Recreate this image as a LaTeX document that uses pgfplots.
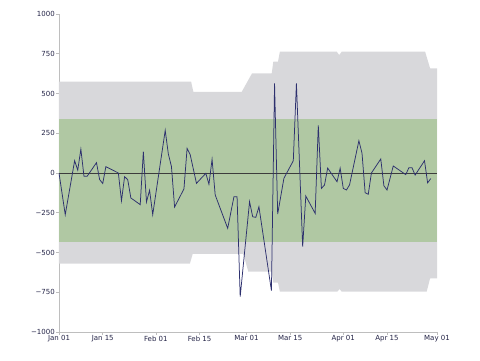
\documentclass[border=0pt]{standalone}
\usepackage{fontspec}
\setmainfont{DejaVu Sans}
\usepackage{pgfplots}
\pgfplotsset{compat=1.18}
\definecolor{bandgrey}{RGB}{216,216,219}
\definecolor{bandgreen}{RGB}{176,200,163}
\definecolor{series}{RGB}{45,48,110}
\definecolor{axisgrey}{RGB}{190,190,190}
\definecolor{labelc}{RGB}{35,35,70}
\begin{document}
\begin{tikzpicture}
\begin{axis}[
  scale only axis,
  width=378pt, height=318pt,
  xmin=0, xmax=121, ymin=-1000, ymax=1000,
  axis lines=left,
  axis line style={-, draw=axisgrey, line width=0.6pt},
  tick align=outside,
  major tick length=2.5pt,
  tick style={draw=axisgrey, line width=0.6pt},
  xtick={0,14,31,45,60,74,91,105,121},
  xticklabels={Jan 01,Jan 15,Feb 01,Feb 15,Mar 01,Mar 15,Apr 01,Apr 15,May 01},
  ytick={-1000,-750,-500,-250,0,250,500,750,1000},
  yticklabels={−1000,−750,−500,−250,0,250,500,750,1000},
  ticklabel style={font=\fontsize{7}{8}\selectfont, text=labelc},
  xticklabel style={inner sep=1pt},
  yticklabel style={inner sep=1.5pt},
  clip=true,
]
% outer grey band
\addplot[fill=bandgrey, draw=none] coordinates {
  (0,574) (42.3,574) (43,511) (58.5,511) (61.8,627) (68.1,627) (68.6,700)
  (70.1,700) (70.7,763) (88.9,763) (89.7,742) (90.5,763) (117.2,763)
  (118.8,658) (121,658)
  (121,-662) (118.8,-662) (117.7,-746) (90.5,-746) (89.8,-730) (89.1,-746)
  (70.7,-746) (70.1,-690) (68.6,-690) (68.1,-621) (67,-621) (60.6,-621)
  (59,-509) (42.8,-509) (41.9,-570) (0,-570)
};
% inner green band
\addplot[fill=bandgreen, draw=none] coordinates {
  (0,338) (121,338) (121,-432) (0,-432)
};
% zero line
\addplot[draw={rgb,255:red,60;green,60;blue,60}, line width=0.6pt] coordinates {(0,0) (121,0)};
% series
\addplot[draw=series, line width=0.75pt] coordinates {
(0,0) (2,-262) (5,77) (6,18) (7,150) (8,-21) (9,-21) (12,65) (13,-41) (14,-66)
(15,40) (19,0) (20,-175) (21,-23) (22,-42) (23,-157) (26,-199) (27,134) (28,-182)
(29,-109) (30,-262) (34,268) (35,120) (36,40) (37,-214) (40,-100) (41,155) (42,115)
(44,-65) (47,-2) (48,-71) (49,86) (50,-138) (54,-348) (56,-149) (57,-149) (58,-778)
(61,-180) (62,-275) (63,-279) (64,-212) (68,-740) (69,564) (70,-258) (72,-33)
(75,77) (76,564) (78,-463) (79,-145) (82,-254) (83,299) (84,-97) (85,-75) (86,31)
(89,-55) (90,30) (91,-97) (92,-107) (93,-75) (96,203) (97,124) (98,-124) (99,-134)
(100,0) (103,88) (104,-80) (105,-107) (107,44) (111,-10) (112,33) (113,33) (114,-13)
(117,77) (118,-62) (119,-35)
};
\end{axis}
\pgfresetboundingbox
\path (-59pt,-28pt) rectangle (421pt,332pt);
\end{tikzpicture}
\end{document}
